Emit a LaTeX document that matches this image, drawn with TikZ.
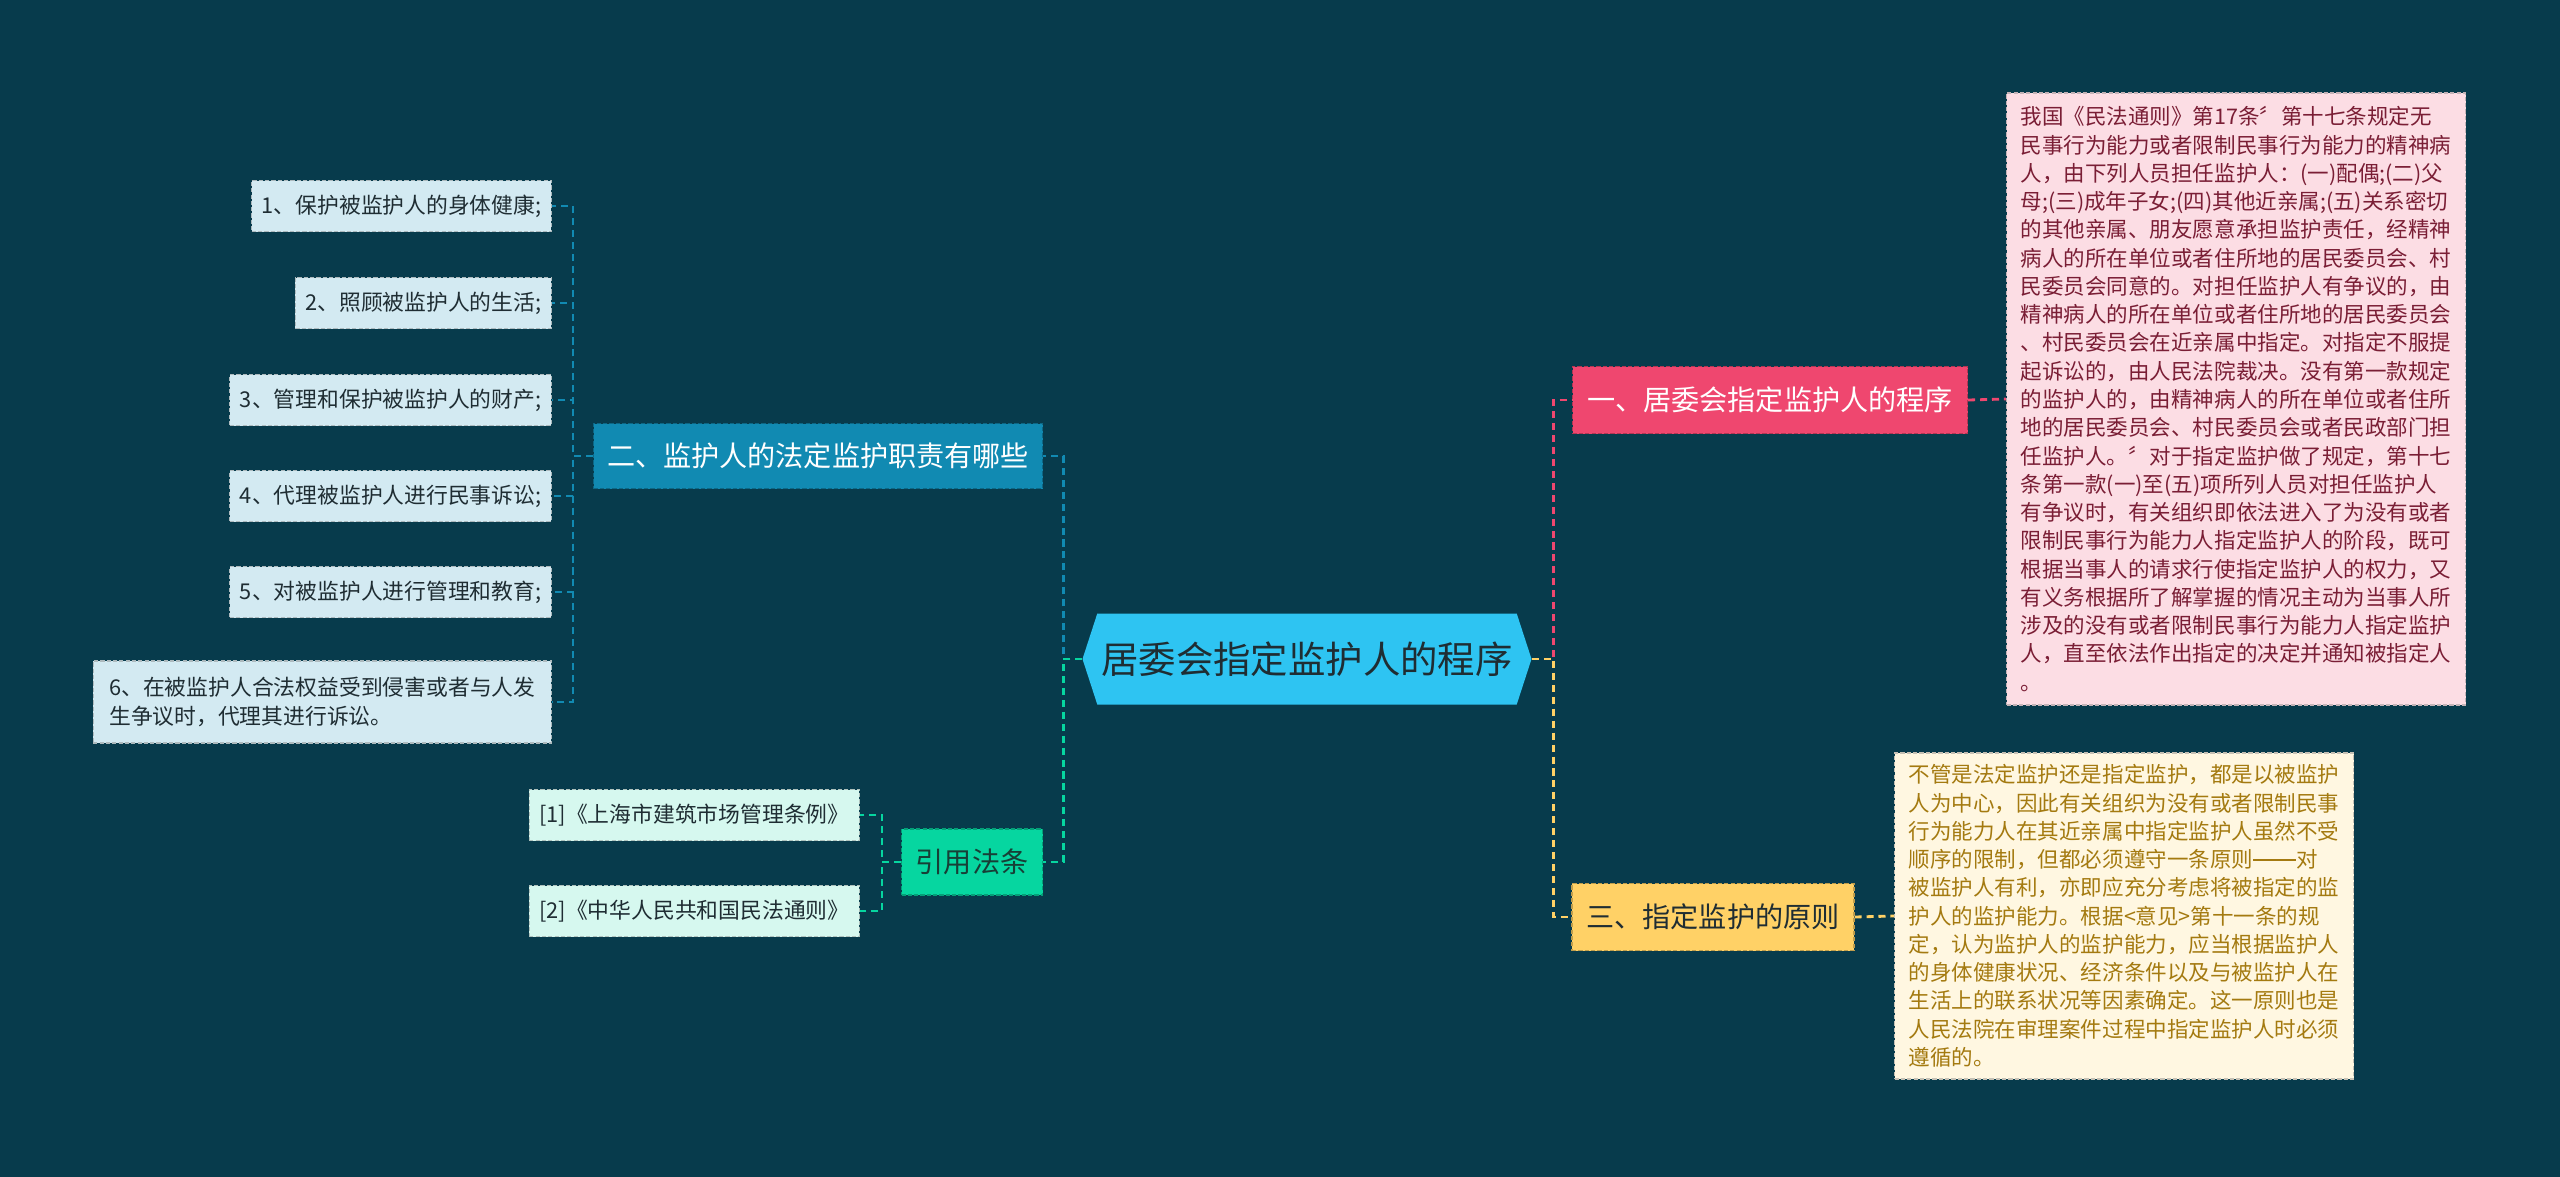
\documentclass[tikz,border=0pt]{standalone}
\usepackage{fontspec}
\setmainfont{Noto Sans CJK SC}
\usepackage{xcolor}
\usetikzlibrary{shapes.symbols}
\definecolor{bgteal}{HTML}{073B4C}
\definecolor{coreblue}{HTML}{2EC4F2}
\definecolor{pinkmain}{HTML}{EF476F}
\definecolor{yellowmain}{HTML}{FFD166}
\definecolor{bluemain}{HTML}{118AB2}
\definecolor{greenmain}{HTML}{06D6A0}
\definecolor{leafblue}{HTML}{D3EAF2}
\definecolor{leafgreen}{HTML}{D6F8EF}
\definecolor{notepink}{HTML}{FCDDE4}
\definecolor{noteyellow}{HTML}{FFF7E1}
\definecolor{pinktext}{HTML}{7A1E35}
\definecolor{yellowtext}{HTML}{A47A10}
\definecolor{darktext}{HTML}{1F2D33}
\definecolor{lawtext}{HTML}{173F36}
\newlength\upx \setlength\upx{0.025cm}
\newcommand\longdash{\rule[0.32em]{2em}{0.07em}}

\begin{document}
\begin{tikzpicture}[x=0.025cm, y=-0.025cm,
  core/.style={signal, signal to=east and west, signal pointer angle=144,
               fill=coreblue, text=darktext, inner sep=0pt,
               minimum width=449\upx, minimum height=91\upx,
               font=\fontsize{26.6}{32}\selectfont},
  branch/.style={fill=#1, draw=#1!75!black, line width=0.8pt,
                 dash pattern=on 3pt off 1.5pt, inner sep=0pt,
                 minimum height=67\upx, font=\fontsize{20}{24}\selectfont},
  leaf/.style={fill=#1, draw=#1!55!gray, line width=0.8pt,
               dash pattern=on 3pt off 1.5pt, anchor=east, text=darktext,
               inner xsep=10\upx, minimum height=51\upx,
               font=\fontsize{15.5}{20}\selectfont},
  note/.style={fill=#1, draw=#1!55!gray, line width=0.8pt,
               dash pattern=on 3pt off 1.5pt, align=left, inner sep=0pt,
               minimum width=459\upx, font=\fontsize{15.3}{20.1}\selectfont},
  link/.style={line width=2pt, dash pattern=on 5pt off 3.5pt}]
\fill[bgteal] (0,0) rectangle (2560,1177);

% centre and main branches
\node[core] (core) at (1307,659) {居委会指定监护人的程序};
\node[branch=pinkmain, text=white, minimum width=395\upx] (proc) at (1770,400)
  {一、居委会指定监护人的程序};
\node[branch=yellowmain, text=darktext, minimum width=282\upx] (rule) at (1713,917)
  {三、指定监护的原则};
\node[branch=bluemain, text=white, minimum width=449\upx, minimum height=65\upx]
  (duty) at (818,456) {二、监护人的法定监护职责有哪些};
\node[branch=greenmain, text=lawtext, minimum width=141\upx, minimum height=66\upx]
  (law) at (972,862) {引用法条};

% duties
\node[leaf=leafblue] (d1) at (552,206) {1、保护被监护人的身体健康;};
\node[leaf=leafblue] (d2) at (552,303) {2、照顾被监护人的生活;};
\node[leaf=leafblue] (d3) at (552,400) {3、管理和保护被监护人的财产;};
\node[leaf=leafblue] (d4) at (552,496) {4、代理被监护人进行民事诉讼;};
\node[leaf=leafblue] (d5) at (552,592) {5、对被监护人进行管理和教育;};
\node[leaf=leafblue, align=left, inner xsep=16\upx, minimum height=82\upx] (d6) at (552,702)
  {6、在被监护人合法权益受到侵害或者与人发\\生争议时，代理其进行诉讼。};

% cited laws
\node[leaf=leafgreen] (r1) at (860,815) {[1]《上海市建筑市场管理条例》};
\node[leaf=leafgreen] (r2) at (860,911) {[2]《中华人民共和国民法通则》};

% notes
\node[note=notepink, text=pinktext, minimum height=612\upx] (proctext) at (2236,399)
  {我国《民法通则》第17条〞第十七条规定无\\
   民事行为能力或者限制民事行为能力的精神病\\
   人，由下列人员担任监护人：(一)配偶;(二)父\\
   母;(三)成年子女;(四)其他近亲属;(五)关系密切\\
   的其他亲属、朋友愿意承担监护责任，经精神\\
   病人的所在单位或者住所地的居民委员会、村\\
   民委员会同意的。对担任监护人有争议的，由\\
   精神病人的所在单位或者住所地的居民委员会\\
   、村民委员会在近亲属中指定。对指定不服提\\
   起诉讼的，由人民法院裁决。没有第一款规定\\
   的监护人的，由精神病人的所在单位或者住所\\
   地的居民委员会、村民委员会或者民政部门担\\
   任监护人。〞对于指定监护做了规定，第十七\\
   条第一款(一)至(五)项所列人员对担任监护人\\
   有争议时，有关组织即依法进入了为没有或者\\
   限制民事行为能力人指定监护人的阶段，既可\\
   根据当事人的请求行使指定监护人的权力，又\\
   有义务根据所了解掌握的情况主动为当事人所\\
   涉及的没有或者限制民事行为能力人指定监护\\
   人，直至依法作出指定的决定并通知被指定人\\
   。};
\node[note=noteyellow, text=yellowtext, minimum height=326\upx] (ruletext) at (2124,916)
  {不管是法定监护还是指定监护，都是以被监护\\
   人为中心，因此有关组织为没有或者限制民事\\
   行为能力人在其近亲属中指定监护人虽然不受\\
   顺序的限制，但都必须遵守一条原则\longdash 对\\
   被监护人有利，亦即应充分考虑将被指定的监\\
   护人的监护能力。根据<意见>第十一条的规\\
   定，认为监护人的监护能力，应当根据监护人\\
   的身体健康状况、经济条件以及与被监护人在\\
   生活上的联系状况等因素确定。这一原则也是\\
   人民法院在审理案件过程中指定监护人时必须\\
   遵循的。};

% connectors
\draw[link, bluemain] (core.west) -- ++(-19,0) |- (duty.east);
\draw[link, greenmain] (core.west) -- ++(-19,0) |- (law.east);
\draw[link, pinkmain] (core.east) -- ++(22,0) |- (proc.west);
\draw[link, yellowmain] (core.east) -- ++(22,0) |- (rule.west);
\foreach \i in {1,...,6}
  \draw[link, bluemain] (duty.west) -- ++(-20,0) |- (d\i.east);
\foreach \i in {1,2}
  \draw[link, greenmain] (law.west) -- ++(-19,0) |- (r\i.east);
\draw[link, pinkmain] (proc.east) -- (proctext.west);
\draw[link, yellowmain] (rule.east) -- (ruletext.west);
\end{tikzpicture}
\end{document}
